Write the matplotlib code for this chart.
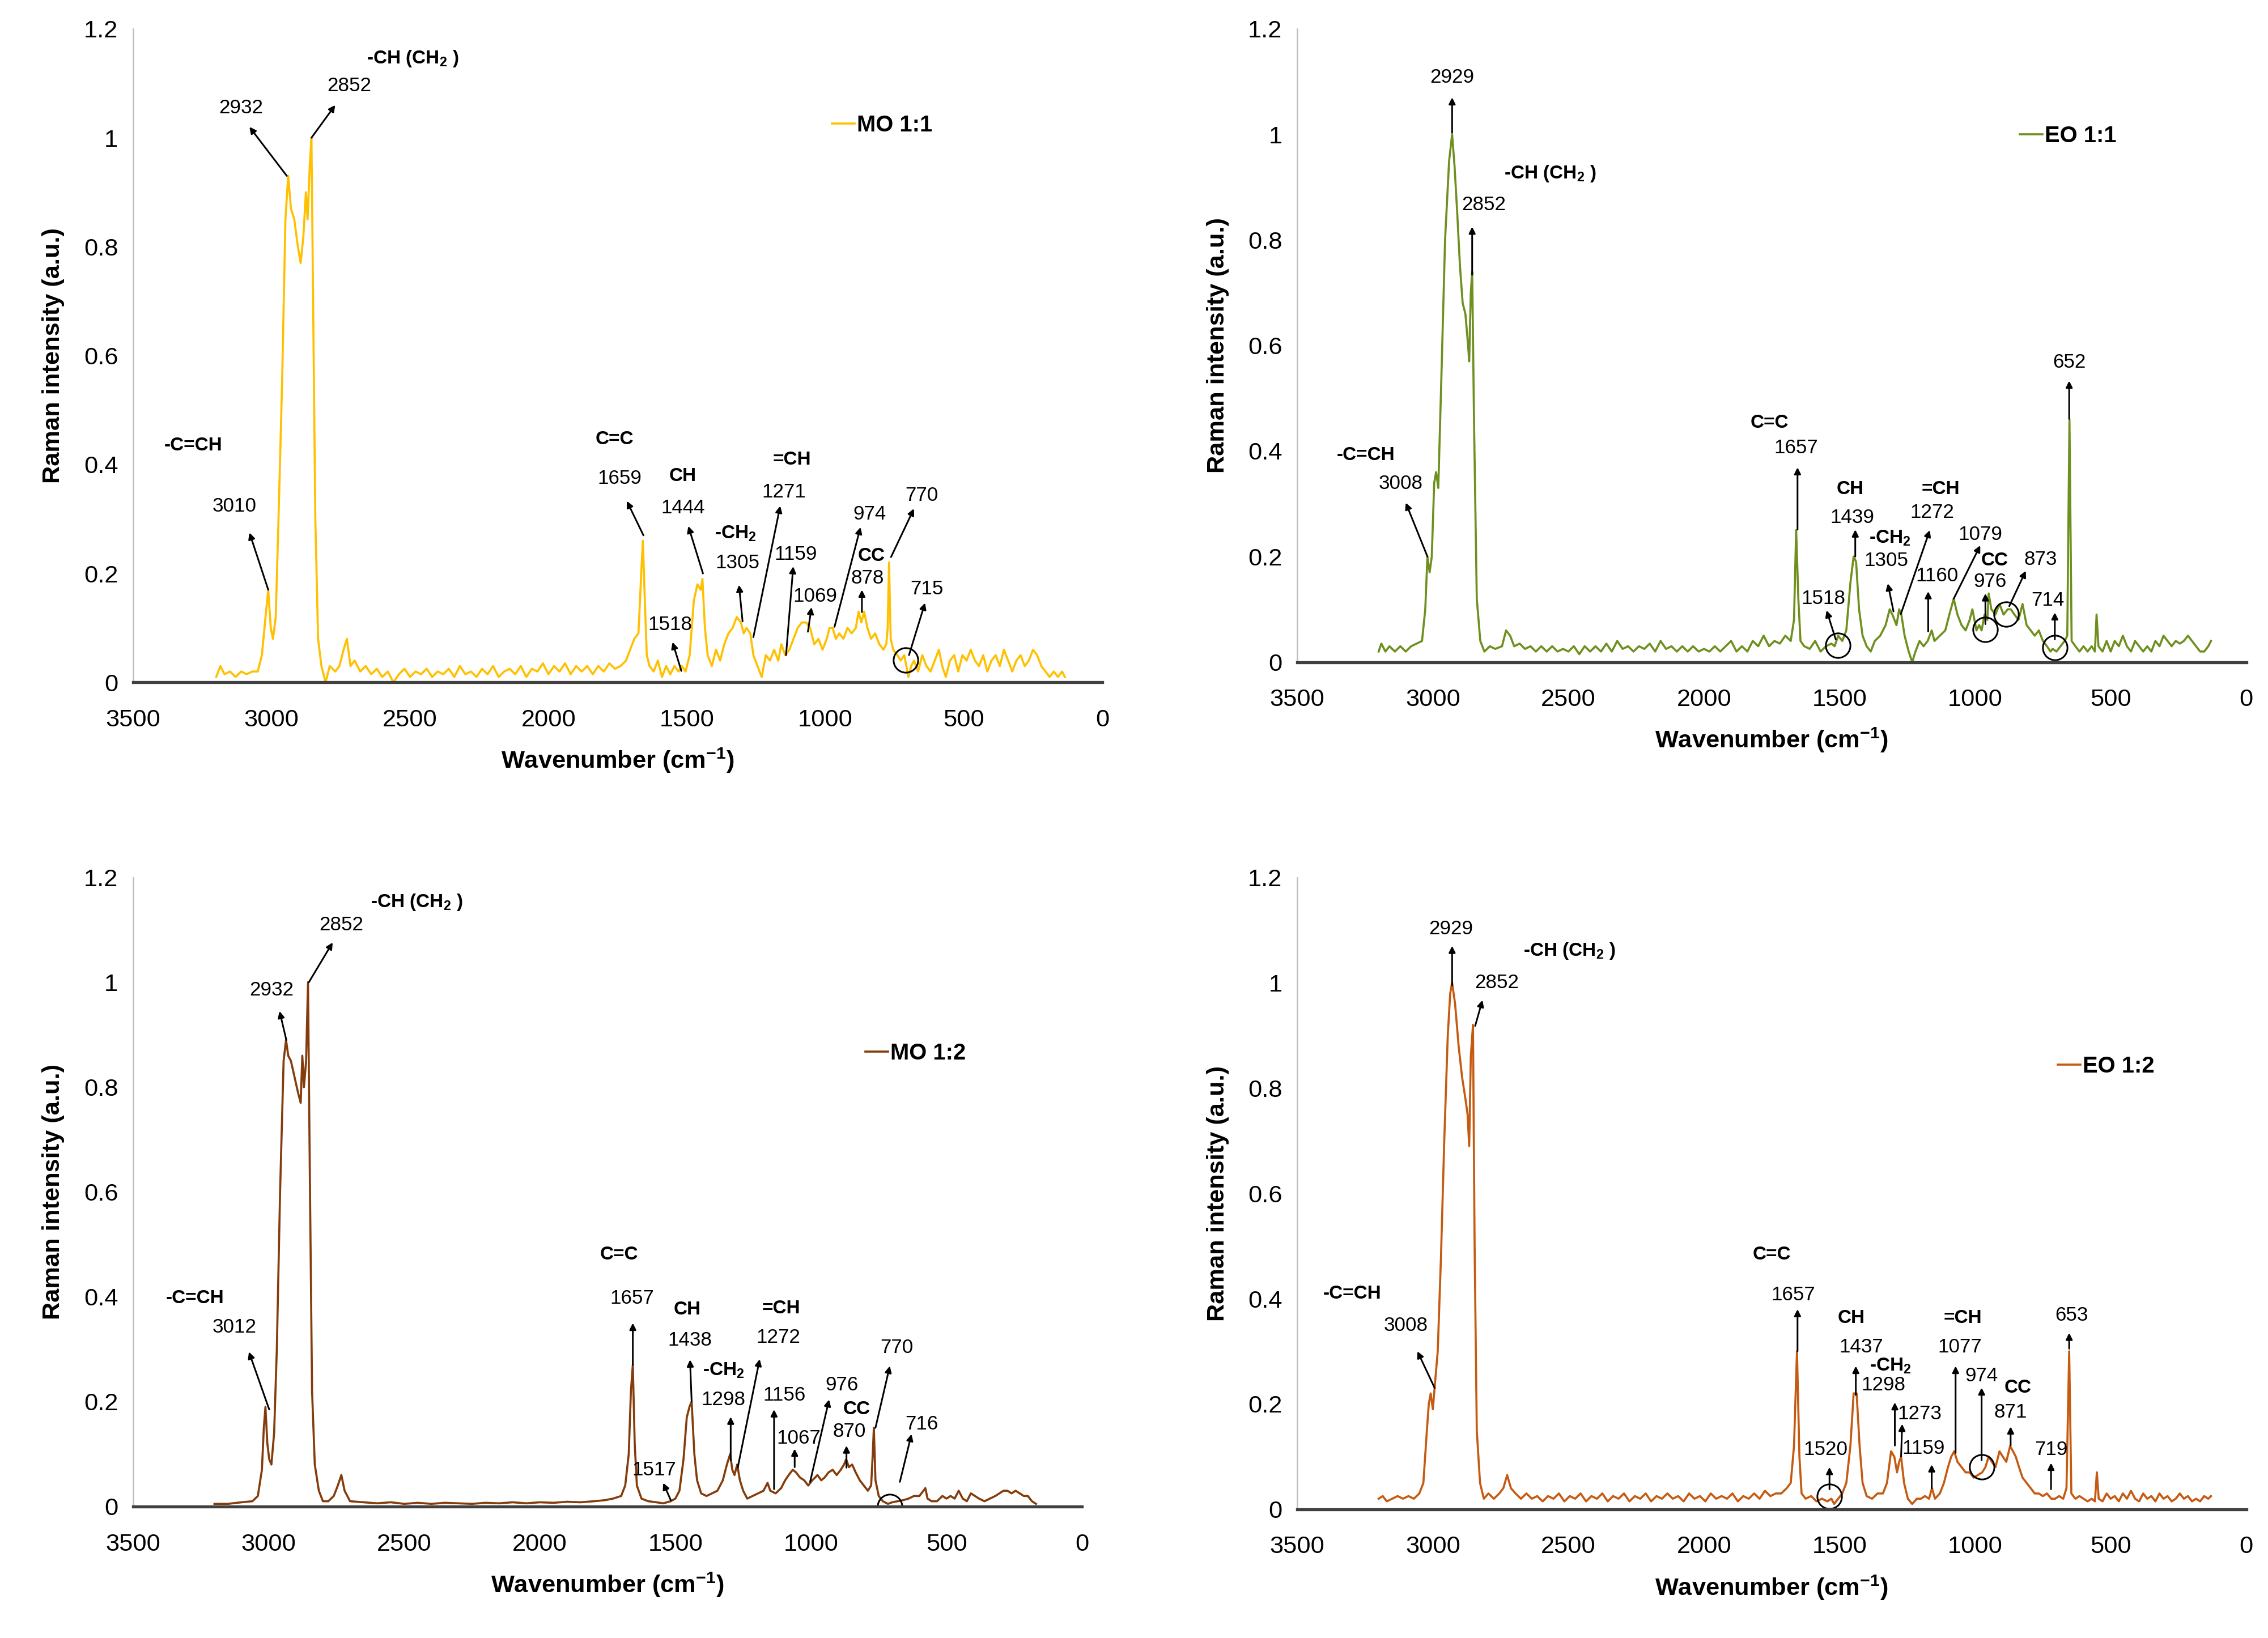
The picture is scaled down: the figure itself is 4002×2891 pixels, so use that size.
import matplotlib
matplotlib.use("Agg")
import matplotlib.pyplot as plt

plt.rcParams['font.family'] = ['Liberation Sans', 'DejaVu Sans']
plt.rcParams['mathtext.default'] = 'regular'
NARROW = ['Liberation Sans Narrow', 'Liberation Sans', 'DejaVu Sans']

# ==================== DATEN ====================
MO11 = [(3200,.01),(3185,.03),(3170,.015),(3150,.02),(3130,.01),(3110,.02),(3090,.015),(3070,.02),(3050,.02),
        (3035,.05),(3020,.13),(3012,.17),(3003,.10),(2995,.08),(2985,.12),(2975,.30),(2962,.55),(2950,.85),
        (2940,.93),(2930,.87),(2918,.85),(2905,.80),(2895,.77),(2885,.82),(2876,.90),(2870,.85),(2862,.95),
        (2856,1.0),(2850,.70),(2842,.30),(2832,.08),(2820,.03),(2805,.00),(2790,.03),(2770,.02),(2755,.03),
        (2740,.06),(2728,.08),(2715,.03),(2700,.04),(2680,.02),(2660,.03),(2640,.015),(2620,.025),(2600,.01),
        (2580,.02),(2560,.00),(2540,.015),(2520,.025),(2500,.01),(2480,.02),(2460,.015),(2440,.025),(2420,.01),
        (2400,.02),(2380,.015),(2360,.025),(2340,.01),(2320,.03),(2300,.015),(2280,.02),(2260,.01),(2240,.025),
        (2220,.015),(2200,.03),(2180,.01),(2160,.02),(2140,.025),(2120,.015),(2100,.03),(2080,.01),(2060,.025),
        (2040,.02),(2020,.035),(2000,.015),(1980,.03),(1960,.02),(1940,.035),(1920,.015),(1900,.03),(1880,.02),
        (1860,.03),(1840,.015),(1820,.03),(1800,.02),(1780,.035),(1760,.025),(1740,.03),(1720,.04),(1705,.06),
        (1690,.08),(1675,.09),(1665,.20),(1659,.26),(1652,.15),(1645,.05),(1635,.03),(1620,.02),(1605,.04),
        (1590,.01),(1575,.03),(1560,.015),(1545,.03),(1530,.02),(1518,.03),(1505,.02),(1490,.05),(1475,.15),
        (1462,.18),(1450,.17),(1444,.19),(1435,.10),(1425,.05),(1410,.03),(1395,.06),(1380,.04),(1365,.07),
        (1350,.09),(1335,.10),(1320,.12),(1305,.11),(1295,.09),(1285,.10),(1271,.09),(1260,.05),(1245,.03),
        (1230,.01),(1215,.05),(1200,.04),(1185,.06),(1170,.04),(1159,.07),(1145,.05),(1130,.06),(1115,.08),
        (1100,.10),(1085,.11),(1069,.11),(1055,.10),(1040,.07),(1025,.08),(1010,.06),(995,.08),(985,.10),
        (974,.10),(962,.08),(950,.09),(935,.08),(920,.10),(905,.09),(890,.10),(880,.13),(870,.11),(860,.13),
        (848,.10),(835,.08),(820,.09),(805,.07),(790,.06),(780,.07),(775,.10),(770,.22),(764,.08),(755,.06),
        (740,.05),(728,.04),(715,.05),(700,.01),(690,.03),(680,.04),(665,.02),(650,.05),(635,.03),(620,.02),
        (605,.04),(590,.06),(578,.03),(565,.01),(550,.04),(535,.05),(520,.02),(505,.05),(490,.04),(475,.06),
        (460,.04),(445,.03),(430,.05),(415,.02),(400,.04),(385,.05),(370,.03),(355,.06),(340,.04),(325,.02),
        (310,.04),(295,.05),(280,.03),(265,.04),(250,.06),(235,.05),(220,.03),(205,.02),(190,.01),(175,.02),
        (160,.01),(145,.02),(135,.01)]

EO11 = [(3200,.02),(3190,.035),(3175,.02),(3160,.03),(3140,.02),(3120,.03),(3100,.02),(3080,.03),(3060,.035),
        (3040,.04),(3028,.10),(3020,.20),(3012,.17),(3004,.20),(2995,.34),(2988,.36),(2980,.33),(2968,.55),
        (2955,.80),(2940,.95),(2929,1.0),(2920,.94),(2910,.85),(2900,.75),(2890,.68),(2880,.66),(2870,.60),
        (2866,.57),(2860,.70),(2855,.74),(2848,.45),(2838,.12),(2825,.04),(2810,.02),(2790,.03),(2770,.025),
        (2745,.03),(2730,.06),(2715,.05),(2700,.03),(2680,.035),(2660,.025),(2640,.03),(2620,.02),(2600,.03),
        (2580,.02),(2560,.03),(2540,.02),(2520,.025),(2500,.02),(2480,.03),(2460,.015),(2440,.03),(2420,.02),
        (2400,.03),(2380,.02),(2360,.035),(2340,.02),(2320,.04),(2300,.025),(2280,.03),(2260,.02),(2240,.03),
        (2220,.025),(2200,.035),(2180,.02),(2160,.04),(2140,.025),(2120,.03),(2100,.02),(2080,.03),(2060,.02),
        (2040,.03),(2020,.02),(2000,.025),(1980,.02),(1960,.03),(1940,.02),(1920,.03),(1900,.04),(1880,.02),
        (1860,.03),(1840,.02),(1820,.04),(1800,.03),(1780,.05),(1760,.03),(1740,.04),(1720,.035),(1700,.05),
        (1680,.04),(1668,.08),(1660,.25),(1652,.12),(1644,.04),(1630,.03),(1610,.025),(1590,.04),(1570,.02),
        (1550,.03),(1530,.035),(1518,.03),(1505,.05),(1490,.04),(1475,.06),(1460,.15),(1448,.20),(1439,.19),
        (1428,.10),(1415,.05),(1400,.03),(1385,.02),(1370,.04),(1350,.05),(1330,.07),(1315,.10),(1305,.09),
        (1290,.07),(1280,.10),(1272,.09),(1260,.05),(1245,.02),(1232,.00),(1220,.02),(1205,.04),(1190,.03),
        (1175,.04),(1160,.06),(1150,.04),(1130,.05),(1110,.06),(1095,.09),(1079,.12),(1065,.09),(1050,.07),
        (1035,.06),(1020,.08),(1010,.10),(995,.06),(985,.07),(976,.06),(965,.09),(955,.08),(950,.13),(940,.10),
        (925,.09),(910,.11),(895,.09),(880,.10),(868,.10),(855,.09),(840,.08),(825,.11),(810,.07),(795,.06),
        (780,.05),(765,.06),(750,.04),(735,.03),(722,.02),(714,.025),(700,.02),(685,.03),(670,.04),(660,.05),
        (652,.46),(644,.04),(630,.03),(615,.02),(600,.03),(585,.02),(570,.03),(558,.02),(552,.09),(545,.03),
        (530,.02),(515,.04),(500,.02),(485,.04),(470,.03),(455,.05),(440,.03),(425,.02),(410,.04),(395,.03),
        (380,.02),(365,.03),(350,.02),(335,.04),(320,.03),(305,.05),(290,.04),(275,.03),(260,.04),(245,.035),
        (230,.04),(215,.05),(200,.04),(185,.03),(170,.02),(155,.02),(140,.03),(130,.04)]

MO12 = [(3200,.005),(3150,.005),(3100,.008),(3060,.01),(3040,.02),(3025,.07),(3018,.15),(3012,.19),(3005,.12),
        (2998,.09),(2990,.08),(2980,.14),(2970,.30),(2958,.60),(2945,.85),(2936,.89),(2928,.86),(2918,.85),
        (2905,.82),(2892,.79),(2882,.77),(2876,.86),(2870,.80),(2862,.85),(2855,1.0),(2848,.62),(2840,.22),
        (2830,.08),(2815,.03),(2800,.01),(2780,.01),(2760,.02),(2745,.04),(2732,.06),(2720,.03),(2700,.01),
        (2650,.008),(2600,.006),(2550,.008),(2500,.005),(2450,.007),(2400,.005),(2350,.007),(2300,.006),
        (2250,.005),(2200,.007),(2150,.006),(2100,.008),(2050,.006),(2000,.008),(1950,.007),(1900,.009),
        (1850,.008),(1800,.01),(1760,.012),(1730,.015),(1700,.02),(1685,.04),(1672,.10),(1664,.22),(1657,.27),
        (1650,.12),(1642,.04),(1625,.015),(1600,.01),(1570,.008),(1545,.006),(1517,.01),(1500,.015),(1485,.03),
        (1470,.09),(1458,.17),(1448,.19),(1440,.20),(1430,.10),(1420,.05),(1405,.025),(1385,.02),(1365,.025),
        (1345,.03),(1325,.05),(1310,.08),(1298,.10),(1290,.07),(1282,.06),(1272,.08),(1262,.05),(1250,.03),
        (1235,.015),(1215,.02),(1195,.025),(1175,.03),(1160,.045),(1150,.03),(1130,.025),(1110,.035),(1095,.05),
        (1082,.06),(1067,.07),(1055,.065),(1040,.055),(1025,.05),(1010,.04),(995,.05),(985,.055),(976,.06),
        (962,.05),(950,.055),(935,.065),(920,.07),(905,.06),(890,.07),(878,.08),(870,.09),(860,.075),(848,.08),
        (835,.065),(820,.05),(805,.04),(790,.03),(778,.04),(772,.10),(768,.15),(762,.05),(750,.02),(735,.01),
        (716,.005),(700,.008),(680,.01),(660,.012),(640,.015),(620,.02),(600,.02),(585,.03),(578,.035),
        (570,.015),(555,.01),(535,.01),(515,.02),(500,.015),(485,.02),(470,.015),(455,.03),(440,.015),(425,.01),
        (410,.025),(395,.02),(380,.015),(360,.01),(340,.015),(320,.02),(305,.025),(290,.03),(275,.03),(260,.025),
        (245,.03),(230,.025),(215,.02),(200,.02),(185,.01),(170,.005)]

EO12 = [(3200,.02),(3185,.025),(3170,.015),(3150,.02),(3130,.025),(3110,.02),(3090,.025),(3070,.02),(3050,.03),
        (3035,.05),(3022,.15),(3015,.20),(3008,.22),(3000,.19),(2992,.24),(2982,.30),(2970,.48),(2958,.70),
        (2945,.90),(2936,.98),(2929,1.0),(2918,.96),(2905,.88),(2892,.82),(2880,.78),(2872,.75),(2866,.69),
        (2860,.86),(2852,.92),(2846,.50),(2838,.15),(2826,.05),(2812,.02),(2795,.03),(2775,.02),(2755,.03),
        (2740,.04),(2726,.065),(2712,.04),(2695,.03),(2675,.02),(2655,.03),(2635,.02),(2615,.025),(2595,.015),
        (2575,.025),(2555,.02),(2535,.03),(2515,.015),(2495,.025),(2475,.02),(2455,.03),(2435,.015),(2415,.025),
        (2395,.02),(2375,.03),(2355,.015),(2335,.025),(2315,.02),(2295,.03),(2275,.015),(2255,.025),(2235,.02),
        (2215,.03),(2195,.015),(2175,.025),(2155,.02),(2135,.03),(2115,.02),(2095,.025),(2075,.015),(2055,.03),
        (2035,.02),(2015,.025),(1995,.015),(1975,.03),(1955,.02),(1935,.025),(1915,.02),(1895,.03),(1875,.015),
        (1855,.025),(1835,.02),(1815,.03),(1795,.02),(1775,.035),(1755,.025),(1735,.03),(1715,.03),(1695,.04),
        (1680,.05),(1668,.12),(1657,.30),(1648,.10),(1640,.03),(1625,.02),(1605,.025),(1585,.015),(1565,.02),
        (1545,.015),(1530,.02),(1520,.01),(1505,.02),(1490,.03),(1475,.05),(1460,.12),(1448,.22),(1437,.22),
        (1426,.12),(1415,.05),(1400,.025),(1380,.02),(1360,.03),(1340,.03),(1325,.05),(1310,.11),(1298,.10),
        (1288,.07),(1280,.09),(1273,.10),(1262,.05),(1248,.02),(1232,.01),(1215,.02),(1200,.02),(1185,.025),
        (1170,.02),(1159,.04),(1148,.02),(1130,.03),(1115,.05),(1100,.08),(1088,.10),(1077,.11),(1065,.09),
        (1050,.08),(1035,.07),(1020,.07),(1005,.06),(990,.065),(974,.07),(962,.08),(950,.10),(938,.09),
        (925,.08),(910,.11),(898,.10),(885,.09),(871,.12),(860,.11),(850,.10),(838,.08),(825,.06),(810,.05),
        (795,.04),(780,.03),(765,.03),(750,.025),(735,.03),(719,.02),(705,.02),(690,.025),(675,.02),(663,.04),
        (653,.30),(645,.03),(630,.02),(615,.025),(600,.02),(585,.015),(570,.02),(558,.015),(551,.07),(544,.02),
        (530,.015),(515,.03),(500,.02),(485,.025),(470,.015),(455,.03),(440,.02),(425,.035),(410,.02),(395,.015),
        (380,.03),(365,.02),(350,.025),(335,.015),(320,.03),(305,.02),(290,.025),(275,.015),(260,.02),(245,.03),
        (230,.02),(215,.025),(200,.015),(185,.02),(170,.015),(155,.025),(140,.02),(130,.025)]

# Beschriftung: (Text, Peak x, Peak y, Pfeilspitze x, Pfeilspitze y, Text x, Text y)
MO11_NOTES = [("3010",3012,.17,3080,.275,3134,.323), ("2932",2945,.93,3080,1.02,3110,1.055),
              ("2852",2856,1.0,2770,1.06,2720,1.095), ("1659",1657,.27,1717,.333,1743,.374),
              ("1444",1442,.20,1495,.287,1515,.32), ("1305",1299,.112,1312,.179,1317,.219),
              ("1271",1260,.083,1163,.324,1150,.349), ("1159",1142,.05,1116,.213,1108,.235),
              ("1069",1063,.093,1050,.138,1037,.158), ("974",967,.102,873,.285,841,.309),
              ("878",868,.129,868,.17,847,.191), ("770",763,.23,680,.319,653,.343),
              ("715",698,.05,640,.146,633,.172), ("1518",1520,.021,1552,.074,1560,.106)]
MO11_GROUPS = [("-C=CH",3283,.435), ("-CH (CH$_{2}$ )",2490,1.145), ("C=C",1761,.446), ("CH",1515,.379),
               ("-CH$_{2}$",1325,.273), ("=CH",1121,.409), ("CC",834,.232)]
MO11_CIRCLES = [(711,.041)]

EO11_NOTES = [("2929",2929,1.003,2929,1.07,2929,1.108), ("2852",2855,.734,2855,.825,2812,.866),
              ("3008",3020,.20,3100,.302,3119,.338), ("1657",1655,.251,1655,.369,1661,.406),
              ("1439",1442,.20,1442,.251,1453,.274), ("1305",1301,.096,1322,.149,1327,.192),
              ("1272",1274,.091,1167,.25,1159,.283), ("1160",1173,.058,1173,.134,1141,.163),
              ("1079",1079,.12,981,.221,981,.242), ("976",962,.072,962,.13,946,.152),
              ("873",874,.106,813,.173,759,.194), ("1518",1514,.043,1548,.098,1559,.12),
              ("714",706,.043,706,.094,733,.117), ("652",653,.461,653,.533,653,.568)]
EO11_GROUPS = [("-C=CH",3247,.392), ("-CH (CH$_{2}$ )",2567,.926), ("C=C",1759,.453), ("CH",1461,.328),
               ("-CH$_{2}$",1314,.235), ("=CH",1127,.328), ("CC",927,.192)]
EO11_CIRCLES = [(962,.062), (885,.091), (1506,.032), (706,.027)]

MO12_NOTES = [("3012",2998,.185,3073,.295,3126,.342), ("2932",2935,.89,2960,.945,2990,.985),
              ("2852",2852,1.0,2764,1.076,2732,1.109), ("1657",1657,.27,1657,.35,1659,.397),
              ("1438",1440,.20,1446,.28,1446,.317), ("1298",1296,.088,1296,.171,1323,.204),
              ("1272",1270,.074,1189,.281,1120,.323), ("1156",1136,.033,1136,.185,1099,.212),
              ("1067",1060,.075,1060,.11,1046,.13), ("976",1003,.047,933,.204,885,.232),
              ("870",869,.074,869,.116,859,.143), ("770",762,.15,709,.268,683,.303),
              ("716",672,.047,629,.138,592,.157), ("1517",1517,.012,1545,.045,1579,.07)]
MO12_GROUPS = [("-C=CH",3271,.397), ("-CH (CH$_{2}$ )",2454,1.153), ("C=C",1707,.48), ("CH",1456,.375),
               ("-CH$_{2}$",1323,.259), ("=CH",1110,.378), ("CC",832,.185)]
MO12_CIRCLES = [(710,.0)]

EO12_NOTES = [("3008",2993,.23,3057,.30,3100,.349), ("2929",2929,.995,2929,1.07,2934,1.102),
              ("2852",2844,.918,2817,.967,2764,1.0), ("1657",1655,.30,1655,.38,1670,.407),
              ("1437",1440,.217,1440,.272,1419,.308), ("1298",1296,.121,1296,.203,1339,.236),
              ("1273",1273,.10,1269,.162,1205,.181), ("1159",1160,.04,1160,.085,1190,.115),
              ("1520",1537,.038,1537,.08,1552,.113), ("1077",1072,.107,1072,.272,1056,.308),
              ("974",976,.093,976,.231,976,.253), ("871",869,.121,869,.157,869,.184),
              ("719",720,.038,720,.088,720,.113), ("653",653,.305,653,.335,645,.368)]
EO12_GROUPS = [("-C=CH",3297,.409), ("-CH (CH$_{2}$ )",2497,1.06), ("C=C",1750,.484), ("CH",1456,.363),
               ("-CH$_{2}$",1312,.272), ("=CH",1045,.363), ("CC",843,.231)]
EO12_CIRCLES = [(1537,.025), (976,.08)]

PANELS = [
    # Name, Daten, Farbe, Notizen, Gruppen, Kreise, Achsenposition, Legendenposition
    ("MO 1:1", MO11, "#FFC000", MO11_NOTES, MO11_GROUPS, MO11_CIRCLES, [0.0587, 0.5834, 0.4273, 0.399], (0.70, 0.90)),
    ("EO 1:1", EO11, "#6F8F1F", EO11_NOTES, EO11_GROUPS, EO11_CIRCLES, [0.572, 0.5958, 0.4184, 0.3866], (0.74, 0.88)),
    ("MO 1:2", MO12, "#843C0C", MO12_NOTES, MO12_GROUPS, MO12_CIRCLES, [0.0587, 0.0803, 0.4184, 0.384], (0.75, 0.77)),
    ("EO 1:2", EO12, "#C55A11", EO12_NOTES, EO12_GROUPS, EO12_CIRCLES, [0.572, 0.0786, 0.4184, 0.3857], (0.78, 0.75)),
]
# =======================================================

fig = plt.figure(figsize=(4002/240, 2891/240), dpi=240)

for name, data, color, notes, groups, circles, pos, legpos in PANELS:
    ax = fig.add_axes(pos)
    wn = [p[0] for p in data]
    inten = [p[1] for p in data]
    ax.plot(wn, inten, color=color, lw=1.1, label=name)

    for lab, px, py, hx, hy, tx, ty in notes:
        ax.annotate("", xy=(hx, hy), xytext=(px, py),
                    arrowprops=dict(arrowstyle="-|>", color="black", lw=0.9, mutation_scale=7,
                                    shrinkA=0, shrinkB=0))
        ax.text(tx, ty, lab, ha="center", va="center", fontsize=10.5, family=NARROW)
    for lab, gx, gy in groups:
        ax.text(gx, gy, lab, ha="center", va="center", fontsize=10, fontweight="bold", family=NARROW)
    for cx, cy in circles:
        ax.plot(cx, cy, marker="o", ms=13, mfc="none", mec="black", mew=0.9)

    ax.set_xlim(3500, 0)
    ax.set_ylim(0, 1.2)
    ax.set_xticks([3500, 3000, 2500, 2000, 1500, 1000, 500, 0])
    ax.set_yticks([0, 0.2, 0.4, 0.6, 0.8, 1.0, 1.2])
    ax.set_yticklabels(["0", "0.2", "0.4", "0.6", "0.8", "1", "1.2"])
    ax.tick_params(length=0, labelsize=13, pad=8)
    ax.tick_params(axis="x", pad=14)
    for s in ["top", "right"]:
        ax.spines[s].set_visible(False)
    ax.spines["left"].set_color("#BFBFBF")
    ax.spines["left"].set_linewidth(0.8)
    ax.spines["bottom"].set_color("#404040")
    ax.spines["bottom"].set_linewidth(1.6)
    ax.set_xlabel("Wavenumber (cm$^{-1}$)", fontsize=13, fontweight="bold", labelpad=8)
    ax.set_ylabel("Raman intensity (a.u.)", fontsize=13, fontweight="bold", labelpad=10)

    leg = ax.legend(loc="upper left", bbox_to_anchor=legpos, frameon=False, handlelength=1.0,
                    handletextpad=0.1, prop=dict(weight="bold", size=12))

fig.savefig("out.png", dpi=240)
